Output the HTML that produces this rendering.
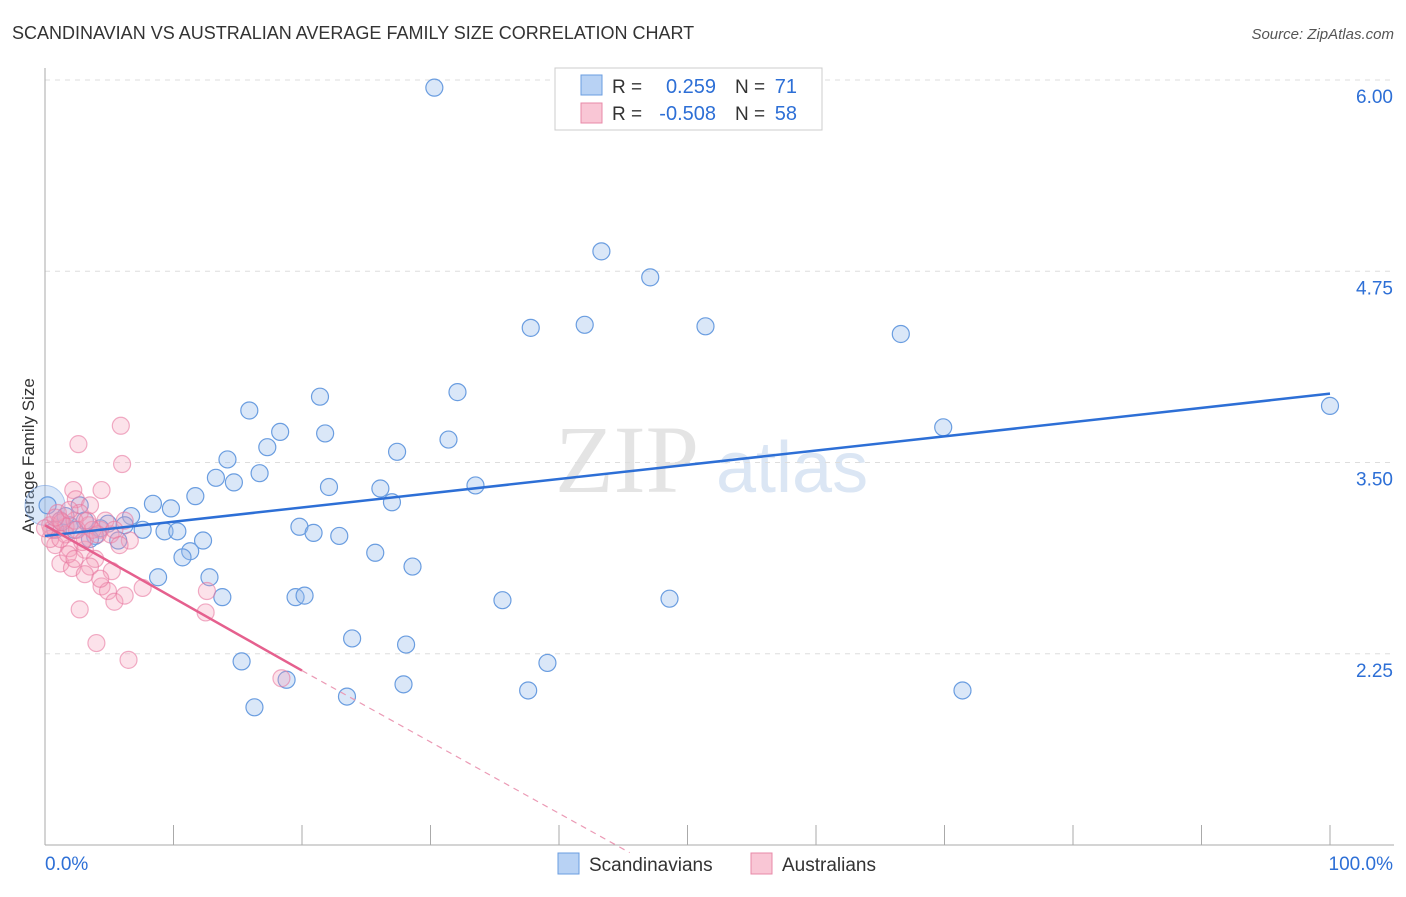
<!DOCTYPE html>
<html><head><meta charset="utf-8"><style>
body{margin:0;background:#fff;font-family:"Liberation Sans",sans-serif}
</style></head><body>
<svg id="c" width="1406" height="892" xmlns="http://www.w3.org/2000/svg">
<text x="12" y="39" font-size="18" fill="#333">SCANDINAVIAN VS AUSTRALIAN AVERAGE FAMILY SIZE CORRELATION CHART</text>
<text x="1394" y="39" font-size="15" fill="#555" font-style="italic" text-anchor="end">Source: ZipAtlas.com</text>
<text transform="translate(34,456) rotate(-90)" font-size="17" fill="#333" text-anchor="middle">Average Family Size</text>
<text x="555" y="492" font-size="96" fill="#e4e4e4" font-family="Liberation Serif">ZIP</text>
<text x="716" y="492" font-size="72" fill="#dbe6f4">atlas</text>
<g id="grid"></g><g id="pts"></g><g id="lines"></g>
<g>
<rect x="555" y="68" width="267" height="62" fill="#fff" stroke="#ccc"/>
<rect x="581" y="75" width="21" height="20" fill="#b8d2f4" stroke="#6a9de0"/>
<rect x="581" y="103" width="21" height="20" fill="#f9c6d5" stroke="#e889a8"/>
<text x="612" y="93" font-size="19" fill="#333">R =</text>
<text x="716" y="93" font-size="20" fill="#2d6fd6" text-anchor="end">0.259</text>
<text x="735" y="93" font-size="19" fill="#333">N =</text>
<text x="797" y="93" font-size="20" fill="#2d6fd6" text-anchor="end">71</text>
<text x="612" y="120" font-size="19" fill="#333">R =</text>
<text x="716" y="120" font-size="20" fill="#2d6fd6" text-anchor="end">-0.508</text>
<text x="735" y="120" font-size="19" fill="#333">N =</text>
<text x="797" y="120" font-size="20" fill="#2d6fd6" text-anchor="end">58</text>
</g>
<g>
<rect x="558" y="853" width="21" height="21" fill="#b8d2f4" stroke="#6a9de0"/>
<text x="589" y="871" font-size="19" fill="#333">Scandinavians</text>
<rect x="751" y="853" width="21" height="21" fill="#f9c6d5" stroke="#e889a8"/>
<text x="782" y="871" font-size="19" fill="#333">Australians</text>
</g>
<text x="45" y="870" font-size="19" fill="#2d6fd6">0.0%</text>
<text x="1393" y="870" font-size="19" fill="#2d6fd6" text-anchor="end">100.0%</text>
</svg>
<script>
const yTicks=[6.00,4.75,3.50,2.25];
const blueX=[30.3,43.3,47.1,37.8,42.0,51.4,66.6,100,69.9,32.1,21.4,15.9,18.3,17.3,21.8,31.4,27.4,14.2,16.7,13.3,14.7,33.5,22.1,26.1,27.0,11.7,8.4,9.8,6.7,4.9,6.2,7.6,9.3,10.3,12.3,5.7,19.8,20.9,22.9,25.7,11.3,10.7,28.6,12.8,8.8,13.8,19.5,20.2,35.6,48.6,23.9,28.1,15.3,39.1,18.8,27.9,37.6,71.4,23.5,16.3,0.2,1.2,2.7,3.9,1.9,3.1,0.8,4.3,3.5,1.6,2.3];
const blueY=[5.95,4.88,4.71,4.38,4.40,4.39,4.34,3.87,3.73,3.96,3.93,3.84,3.70,3.60,3.69,3.65,3.57,3.52,3.43,3.40,3.37,3.35,3.34,3.33,3.24,3.28,3.23,3.20,3.15,3.10,3.09,3.06,3.05,3.05,2.99,2.99,3.08,3.04,3.02,2.91,2.92,2.88,2.82,2.75,2.75,2.62,2.62,2.63,2.60,2.61,2.35,2.31,2.20,2.19,2.08,2.05,2.01,2.01,1.97,1.90,3.22,3.12,3.22,3.02,3.09,3.12,3.06,3.07,3.00,3.15,3.06];
const pinkX=[2.6,5.9,6.0,4.4,2.2,2.4,3.5,2.7,6.2,1.2,0.4,1.6,3.4,4.3,5.1,6.6,0.8,1.9,3.1,3.9,1.2,2.1,3.5,5.2,4.4,4.9,5.4,6.2,7.6,2.7,12.6,12.5,4.0,6.5,18.4,0.4,1.6,2.3,1.0,3.1,1.8,3.7,0.5,1.3,2.9,4.7,5.4,0,0.8,1.9,2.5,3.3,4.1,5.8,2.3,3.1,4.3,1.2];
const pinkY=[3.62,3.74,3.49,3.32,3.32,3.26,3.22,3.17,3.12,3.12,3.09,3.08,3.09,3.06,3.03,2.99,2.96,2.94,2.93,2.87,2.84,2.81,2.82,2.79,2.69,2.66,2.59,2.63,2.68,2.54,2.66,2.52,2.32,2.21,2.09,3.00,3.03,3.12,3.17,3.00,2.90,3.06,3.06,3.11,2.98,3.12,3.06,3.07,3.14,3.19,3.06,3.12,3.03,2.96,2.87,2.77,2.74,3.00];
const blueLine=[[0,3.02],[100,3.95]];
const pinkLine=[[0,3.09],[20,2.14],[45.5,0.95]];
const X=v=>45+v*12.85, Y=v=>80+(6-v)*153;
const ns="http://www.w3.org/2000/svg";
function mk(t,a,p){const e=document.createElementNS(ns,t);for(const k in a)e.setAttribute(k,a[k]);document.getElementById(p).appendChild(e);return e;}
yTicks.forEach(t=>{
 const l=mk('line',{x1:45,x2:1394,y1:Y(t),y2:Y(t),stroke:'#ddd','stroke-dasharray':'5,5'},'grid');
 
 
 const tx=mk('text',{x:1393,y:Y(t)+23,'font-size':19,fill:'#2d6fd6','text-anchor':'end'},'grid');tx.textContent=t.toFixed(2);
 
 
});
mk('line',{x1:45,x2:45,y1:68,y2:845,stroke:'#aaa'},'grid');
mk('line',{x1:45,x2:1394,y1:845,y2:845,stroke:'#aaa'},'grid');
for(let i=0;i<=10;i++){mk('line',{x1:X(i*10),x2:X(i*10),y1:825,y2:845,stroke:'#aaa'},'grid');}
const big=mk('circle',{cx:X(0),cy:Y(3.22),r:20,fill:'rgba(150,185,235,0.35)',stroke:'rgba(100,150,225,0.5)'},'pts');


blueX.forEach((v,i)=>{const c=mk('circle',{cx:X(v),cy:Y(blueY[i]),r:8.5,fill:'rgba(150,185,235,0.35)',stroke:'#6a9de0','stroke-width':1.2},'pts');
 
 });
pinkX.forEach((v,i)=>{const c=mk('circle',{cx:X(v),cy:Y(pinkY[i]),r:8.5,fill:'rgba(245,160,185,0.3)',stroke:'rgba(232,120,160,0.6)','stroke-width':1.2},'pts');
 
 });
const bl=mk('line',{x1:X(blueLine[0][0]),y1:Y(blueLine[0][1]),x2:X(blueLine[1][0]),y2:Y(blueLine[1][1]),stroke:'#2d6fd6','stroke-width':2.5},'lines');


const pl=mk('line',{x1:X(pinkLine[0][0]),y1:Y(pinkLine[0][1]),x2:X(pinkLine[1][0]),y2:Y(pinkLine[1][1]),stroke:'#e5608e','stroke-width':2.5},'lines');


const pd=mk('line',{x1:X(pinkLine[1][0]),y1:Y(pinkLine[1][1]),x2:X(pinkLine[2][0]),y2:Y(pinkLine[2][1]),stroke:'#eb9ab5','stroke-width':1.2,'stroke-dasharray':'6,5'},'lines');


</script>
</body></html>
